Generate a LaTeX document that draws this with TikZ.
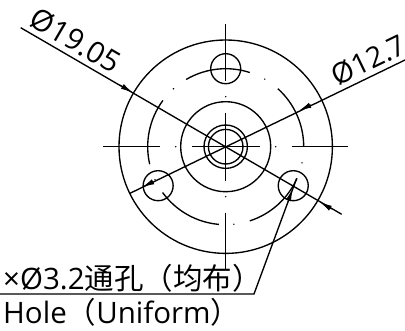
\documentclass[tikz,border=0pt]{standalone}
\usepackage{fontspec}
\setmainfont{Open Sans}
\newfontfamily\cjk{Noto Sans CJK SC}
\usetikzlibrary{arrows.meta,calc}
\tikzset{
  x=1pt,y=1pt,
  ln/.style={line width=1.35pt,draw=black},
  tipa/.style={-{Latex[length=12pt,width=5.5pt]},line width=0.9pt,draw=black},
  lbl/.style={inner sep=0pt,font=\fontsize{29.5}{29.5}\selectfont,text=black},
  lbr/.style={inner sep=0pt,font=\fontsize{28.5}{28.5}\selectfont,text=black},
  dot/.style={circle,fill=black,inner sep=0pt,minimum size=1.6pt}
}
\begin{document}
\begin{tikzpicture}
\useasboundingbox (0,0) rectangle (405,330);
\coordinate (c) at (225.7,183.3);
% circles
\draw[ln] (c) circle (106.7);
\draw[ln] (c) circle (45);
\draw[ln] (c) circle (21.7);
\draw[ln] (c) circle (17.3);
\foreach \a/\n in {90/t,210/l,330/r}{
  \coordinate (h\n) at ($(c)+(\a:78)$);
  \draw[ln] (h\n) circle (15);
}
% bolt circle arcs
\foreach \s/\e in {72/120.5, 0/48, -72/-24, -144/-95, 143.6/193}{
  \draw[ln] ($(c)+(\s:78)$) arc[start angle=\s,end angle=\e,radius=78];
}
\foreach \a in {132,60,-84,-12,-155}{\node[dot] at ($(c)+(\a:78)$) {};}
% centre lines
\foreach \a in {0,90,180,270}{
  \draw[ln] ($(c)+(\a:1)$) -- ($(c)+(\a:34)$);
  \node[dot] at ($(c)+(\a:50)$) {};
  \draw[ln] ($(c)+(\a:66)$) -- ($(c)+(\a:122.7)$);
}
% dimension lines
\coordinate (a1) at (20.7,302.3);
\coordinate (a2) at (341.7,115.7);
\draw[ln] (a1) -- (a2);
\coordinate (b1) at (130,136.7);
\coordinate (b2) at (405,270);
\draw[ln] (b1) -- (b2);
% arrowheads
\coordinate (a3) at (120,245);  \coordinate (a4) at (132.7,237.4);
\coordinate (a5) at (331.7,121); \coordinate (a6) at (320,127.8);
\coordinate (b3) at (311,225.2); \coordinate (b4) at (299.3,219.5);
\coordinate (b5) at (153,148.2); \coordinate (b6) at (142.3,143);
\draw[tipa] (a3) -- (a4);
\draw[tipa] (a5) -- (a6);
\draw[tipa] (b3) -- (b4);
\draw[tipa] (b5) -- (b6);
% leader
\coordinate (l0) at (0,36);
\coordinate (l1) at (254,36);
\coordinate (l2) at (296.7,151.7);
\coordinate (l3) at (287.7,127.2); \coordinate (l4) at (292.5,141);
\draw[ln] (l0) -- (l1) -- (l2);
\draw[tipa] (l3) -- (l4);
% labels
\node[lbl,rotate=-30.2] (d1) at (75.5,289.6) {Ø19.05};
\node[lbr,rotate=25.8] (d2) at (368.7,269.7) {Ø12.7};
\node[lbl,anchor=base west] (t1) at (3,41) {×Ø3.2{\cjk 通孔（均布）}};
\node[lbl,anchor=base west] (t2) at (3,7) {Hole{\cjk（}Uniform{\cjk）}};
\end{tikzpicture}
\end{document}
